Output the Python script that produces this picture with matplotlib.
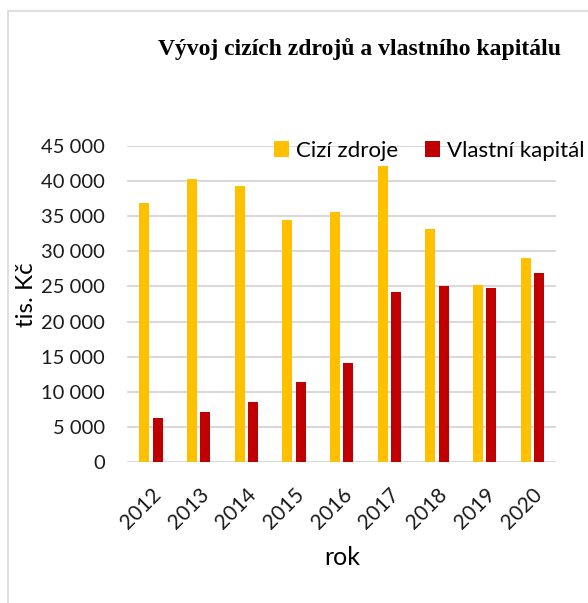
import matplotlib
matplotlib.use("Agg")
import matplotlib.pyplot as plt
from matplotlib.patches import Rectangle
import numpy as np

years = ["2012", "2013", "2014", "2015", "2016", "2017", "2018", "2019", "2020"]
cizi_zdroje = [36800, 40300, 39300, 34500, 35600, 42100, 33100, 25200, 29100]
vlastni_kapital = [6300, 7100, 8600, 11400, 14100, 24200, 25000, 24800, 26900]
yticks = [0, 5000, 10000, 15000, 20000, 25000, 30000, 35000, 40000, 45000]

plt.rcParams['font.family'] = ['Lato', 'DejaVu Sans']

fig = plt.figure(figsize=(5.88, 6.03), dpi=100)
ax = fig.add_axes([0.2165, 0.2333, 0.7291, 0.5251])

x = np.arange(len(years))
w = 0.21
ax.bar(x - 0.14, cizi_zdroje, w, color='#FFC000', label='Cizí zdroje', zorder=3)
ax.bar(x + 0.14, vlastni_kapital, w, color='#C00000', label='Vlastní kapitál', zorder=3)

ax.set_xlim(-0.5, len(years) - 0.5)
ax.set_ylim(0, 45000)
ax.set_yticks(yticks)
ax.set_yticklabels([f"{v:,}".replace(",", " ") for v in yticks], fontsize=14.5, color='#1a1a1a')
ax.set_xticks(x)
ax.set_xticklabels(years, rotation=45, ha='right', rotation_mode='anchor', fontsize=15, color='#1a1a1a')
ax.tick_params(length=0)
ax.tick_params(axis='y', pad=16)
ax.tick_params(axis='x', pad=16)
ax.grid(axis='y', color='#d9d9d9', linewidth=1.5, zorder=0)
for s in ax.spines.values():
    s.set_visible(False)

ax.set_ylabel('tis. Kč', fontsize=17.5)
ax.yaxis.set_label_coords(-0.21, 0.53)
fig.text(0.582, 0.075, 'rok', fontsize=18, ha='center', va='center')

fig.text(0.612, 0.919, 'Vývoj cizích zdrojů a vlastního kapitálu', fontsize=17,
         fontweight='bold', ha='center', va='center',
         family=['Liberation Serif', 'DejaVu Serif'])

fig.legend(loc='center', bbox_to_anchor=(0.73, 0.75), ncol=2, frameon=False,
           fontsize=16, handlelength=0.7, handleheight=0.7, handletextpad=0.3,
           columnspacing=1.2)

fig.patches.append(Rectangle((0.0136, -0.1), 1.1, 1.082, transform=fig.transFigure,
                             fill=False, edgecolor='#d9d9d9', linewidth=1.2))

fig.savefig('out.png', dpi=100)
